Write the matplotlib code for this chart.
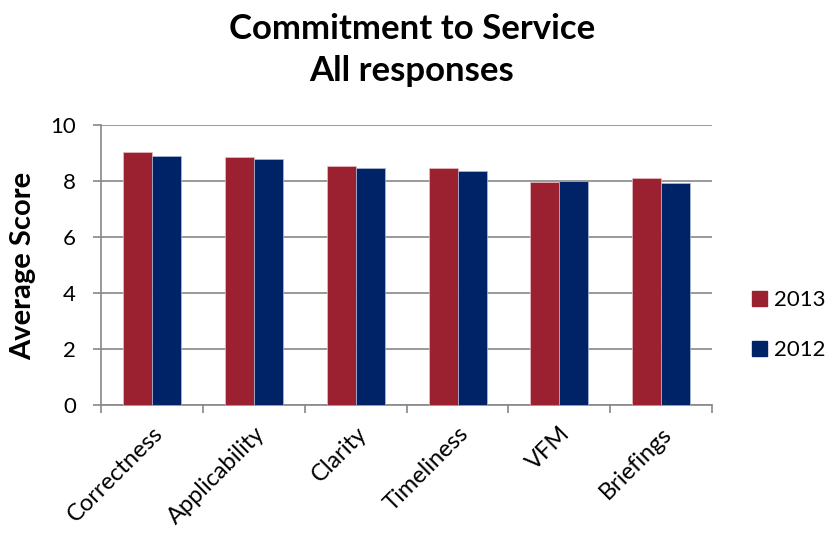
import matplotlib
matplotlib.use("Agg")
import matplotlib.pyplot as plt
import numpy as np
from matplotlib.patches import Rectangle

plt.rcParams['font.family'] = ['Lato', 'DejaVu Sans']

categories = ["Correctness", "Applicability", "Clarity", "Timeliness", "VFM", "Briefings"]
scores_2013 = [9.03, 8.84, 8.54, 8.47, 7.96, 8.11]
scores_2012 = [8.89, 8.77, 8.48, 8.37, 8.01, 7.92]
series_labels = ["2013", "2012"]
colors = ["#9B2131", "#002266"]
yticks = [0, 2, 4, 6, 8, 10]

fig = plt.figure(figsize=(8.29, 5.33), dpi=100)
ax = fig.add_axes([0.122, 0.240, 0.737, 0.5255])

x = np.arange(len(categories))
w = 0.285
ax.bar(x - w / 2, scores_2013, w, color=colors[0], edgecolor="#e8c0c6", linewidth=0.5, zorder=3)
ax.bar(x + w / 2, scores_2012, w, color=colors[1], edgecolor="#b0bcd6", linewidth=0.5, zorder=3)

ax.set_xlim(-0.5, len(categories) - 0.5)
ax.set_ylim(0, 10)
ax.set_yticks(yticks)
ax.set_yticklabels([str(t) for t in yticks], fontsize=16)
ax.yaxis.grid(True, color="#888888", linewidth=1.2, zorder=0)
ax.set_axisbelow(True)

# category labels centred on each group, tick marks on group boundaries
ax.set_xticks(x)
ax.set_xticklabels(categories, rotation=45, ha="right", va="top", rotation_mode="anchor", fontsize=17)
ax.tick_params(axis="x", which="major", length=0, pad=13)
ax.set_xticks(np.arange(len(categories) + 1) - 0.5, minor=True)
ax.tick_params(axis="x", which="minor", length=6, color="#888888", width=1.2)
ax.tick_params(axis="y", length=6, color="#888888", width=1.2, pad=12)

for side in ["top", "right"]:
    ax.spines[side].set_visible(False)
for side in ["left", "bottom"]:
    ax.spines[side].set_color("#888888")
    ax.spines[side].set_linewidth(1.2)

fig.text(23 / 829, 1 - 266 / 533, "Average Score", rotation=90, ha="center", va="center",
         fontsize=21, fontweight="bold")

fig.text(0.497, 1 - 50 / 533, "Commitment to Service\nAll responses", ha="center", va="center",
         fontsize=25, fontweight="bold", linespacing=1.38)

handles = [Rectangle((0, 0), 1, 1, color=c) for c in colors]
fig.legend(handles, series_labels, loc="center left", bbox_to_anchor=(752 / 829, 1 - 325 / 533),
           frameon=False, fontsize=16, handlelength=0.68, handleheight=0.68,
           labelspacing=1.35, handletextpad=0.3, borderpad=0, borderaxespad=0)

fig.savefig("out.png", dpi=100)
